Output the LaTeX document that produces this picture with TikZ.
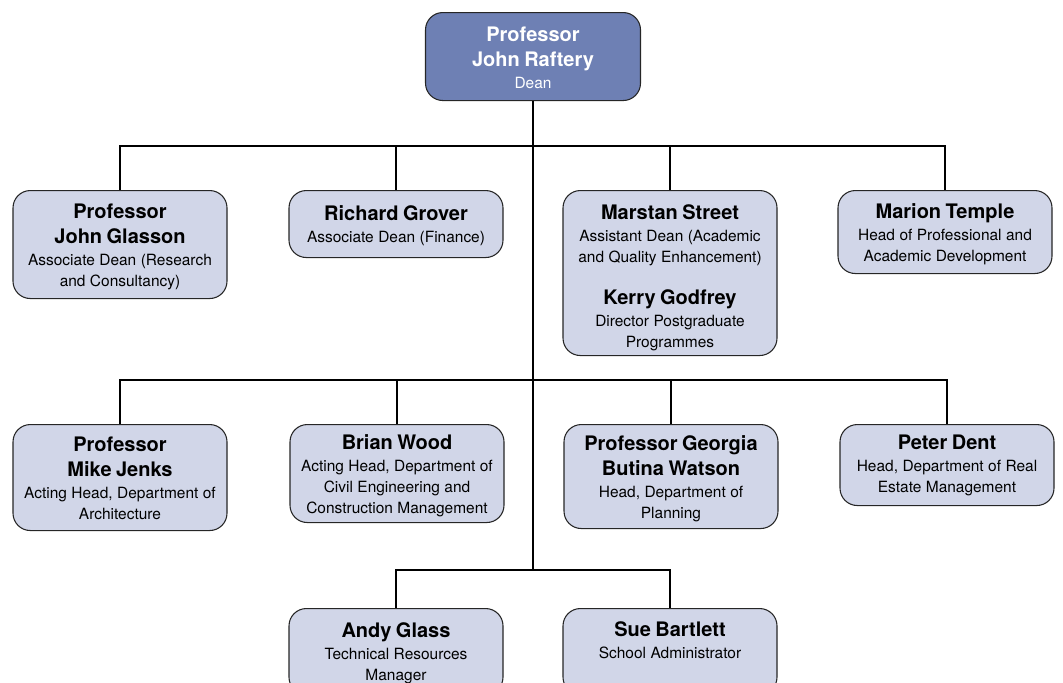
\documentclass[tikz,border=0pt]{standalone}
\usepackage{fontspec}
\setmainfont{TeX Gyre Heros}
\definecolor{deanblue}{HTML}{6E80B4}
\definecolor{staffblue}{HTML}{D1D6E8}
\newcommand{\nm}[1]{{\fontsize{15}{19}\selectfont\bfseries #1\par}}
\newcommand{\rl}[1]{{\fontsize{11.6}{15.75}\selectfont\vspace{0.7pt}#1\par}}
\begin{document}
\begin{tikzpicture}[x=0.75pt,y=-0.75pt,
    box/.style={draw=black!85,line width=0.8pt,fill=staffblue,rounded corners=13pt,
      anchor=north,minimum width=160.5pt,text width=150pt,align=center,inner sep=4pt,
      execute at end node=\vspace{-3pt}},
    deanbox/.style={box,fill=deanblue,text=white,minimum width=161.25pt,minimum height=66pt}]
  \useasboundingbox (0,0) rectangle (1063,682);
  \draw
    (533,12) node[deanbox] (dean) {\nm{Professor\\John Raftery}\rl{Dean}\vspace{1pt}}
    (120,190) node[box,minimum height=81pt] (glasson) {\nm{Professor\\John Glasson}\rl{Associate Dean (Research\\and Consultancy)}}
    (396,190) node[box,minimum height=50.25pt] (grover) {\nm{Richard Grover}\rl{Associate Dean (Finance)}}
    (670,190) node[box,minimum height=123.75pt] (street) {\nm{Marstan Street}\rl{Assistant Dean (Academic\\and Quality Enhancement)}\vspace{12.5pt}\nm{Kerry Godfrey}\rl{Director Postgraduate\\Programmes}\vspace{-4pt}}
    (945,190) node[box,minimum height=62.25pt] (temple) {\nm{Marion Temple}\rl{Head of Professional and\\Academic Development}}
    (120,424) node[box,minimum height=79.5pt] (jenks) {\nm{Professor\\Mike Jenks}\rl{Acting Head, Department of\\Architecture}\vspace{2pt}}
    (397,424) node[box,minimum height=73.5pt] (wood) {\nm{Brian Wood}\rl{Acting Head, Department of\\Civil Engineering and\\Construction Management}}
    (671,424) node[box,minimum height=78pt] (watson) {\nm{Professor Georgia\\Butina Watson}\rl{Head, Department of\\Planning}}
    (947,424) node[box,minimum height=60.75pt] (dent) {\nm{Peter Dent}\rl{Head, Department of Real\\Estate Management}\vspace{2pt}}
    (396,608) node[box,minimum height=64.5pt] (glass) {\nm{Andy Glass}\rl{Technical Resources\\Manager}}
    (670,608) node[box,minimum height=64.5pt] (bartlett) {\nm{Sue Bartlett}\rl{School Administrator\\\strut}};
  \coordinate (bus1) at (533,146);
  \coordinate (bus2) at (533,380);
  \coordinate (bus3) at (533,570);
  \begin{scope}[line width=2pt]
    \draw (dean.south) -- (bus3);
    \draw (glasson.north) |- (bus1) -| (temple.north);
    \draw (grover) -- (grover |- bus1);
    \draw (street) -- (street |- bus1);
    \draw (jenks.north) |- (bus2) -| (dent.north);
    \draw (wood) -- (wood |- bus2);
    \draw (watson) -- (watson |- bus2);
    \draw (glass.north) |- (bus3) -| (bartlett.north);
  \end{scope}
\end{tikzpicture}
\end{document}
